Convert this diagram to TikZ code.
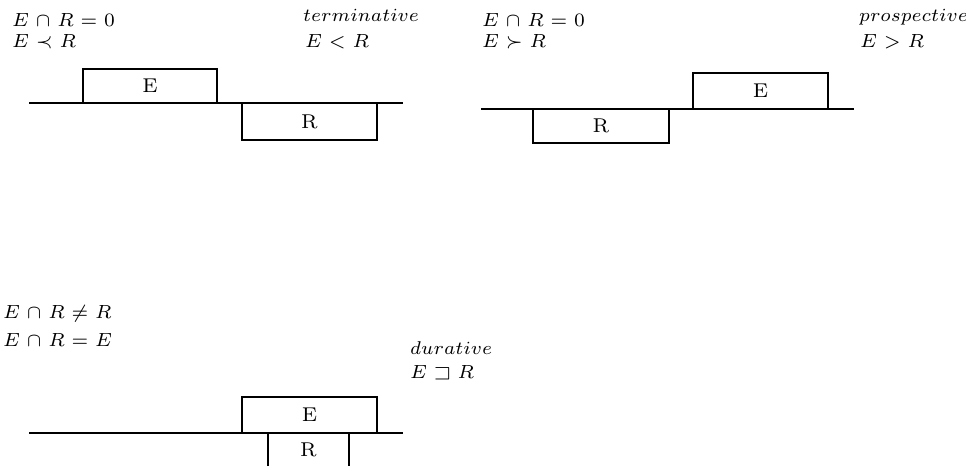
\documentclass[tikz,border=0pt]{standalone}
\usepackage{amssymb}
% math in the wide small-size Computer Modern designs, scaled freely
\DeclareFontShape{OML}{cmm}{m}{it}{<-> cmmi7}{\skewchar\font127 }
\DeclareFontShape{OMS}{cmsy}{m}{n}{<-> cmsy7}{\skewchar\font48 }
\DeclareFontShape{OT1}{cmr}{m}{n}{<-> cmr7}{}
\DeclareFontFamily{U}{msa}{}
\DeclareFontShape{U}{msa}{m}{n}{<-> msam7}{}
% a formula with somewhat wider spacing round its operators
\newcommand\wideformula[1]{$\medmuskip=5.5mu\relax\thickmuskip=5.5mu\relax #1$}
\begin{document}
\begin{tikzpicture}[x=1pt,y=-1pt,
  formula/.style={anchor=base west,inner sep=0pt,font=\fontsize{19}{23}\selectfont},
  casename/.style={anchor=base west,inner sep=0pt,font=\fontsize{18.5}{22}\selectfont},
  interval/.style={draw,line width=2.7pt,inner sep=0pt,font=\fontsize{20}{24}\selectfont},
  boxlabel/.style={inner sep=0pt,font=\fontsize{20}{24}\selectfont},
  boxline/.style={line width=2.7pt},
  timeline/.style={line width=1.9pt}]
\useasboundingbox (0,0) rectangle (966,466);

% ---- terminative ----
\node[formula] (t1) at (12,26) {\wideformula{E\cap R=0}};
\node[formula] (t2) at (12,47) {\wideformula{E\prec R}};
\node[casename] (t3) at (303,21) {$terminative$};
\node[formula] (t4) at (305,47) {\wideformula{E<R}};
\coordinate (l1a) at (29,103);
\coordinate (l1b) at (403,103);
\draw[timeline] (l1a) -- (l1b);
\node[interval,minimum width=134pt,minimum height=34pt] (e1) at (150,86) {$\mathrm{E}$};
\node[interval,minimum width=135pt,minimum height=37pt] (r1) at (309.5,121.5) {$\mathrm{R}$};

% ---- prospective ----
\node[formula] (p1) at (482,26) {\wideformula{E\cap R=0}};
\node[formula] (p2) at (482,47) {\wideformula{E\succ R}};
\node[casename] (p3) at (859,21) {$prospective$};
\node[formula] (p4) at (860,47) {\wideformula{E>R}};
\coordinate (l2a) at (481,109);
\coordinate (l2b) at (854,109);
\draw[timeline] (l2a) -- (l2b);
\node[interval,minimum width=136pt,minimum height=34pt] (r2) at (601,126) {$\mathrm{R}$};
\node[interval,minimum width=135pt,minimum height=36pt] (e2) at (760.5,91) {$\mathrm{E}$};

% ---- durative ----
\node[formula] (d1) at (3,318) {\wideformula{E\cap R\neq R}};
\node[formula] (d2) at (3,346) {\wideformula{E\cap R=E}};
\node[casename] (d3) at (410,354) {$durative$};
\node[formula] (d4) at (410,378) {\wideformula{E\sqsupset R}};
\coordinate (l3a) at (29,433);
\coordinate (l3b) at (403,433);
\draw[timeline] (l3a) -- (l3b);
\node[interval,minimum width=135pt,minimum height=36pt] (e3) at (309.5,415) {$\mathrm{E}$};
\node[boxlabel] (r3) at (308.5,450) {$\mathrm{R}$};
\coordinate (r3a) at (268,466);
\coordinate (r3b) at (268,433);
\coordinate (r3c) at (349,433);
\coordinate (r3d) at (349,466);
\draw[boxline] (r3a) -- (r3b) -- (r3c) -- (r3d);
\end{tikzpicture}
\end{document}
